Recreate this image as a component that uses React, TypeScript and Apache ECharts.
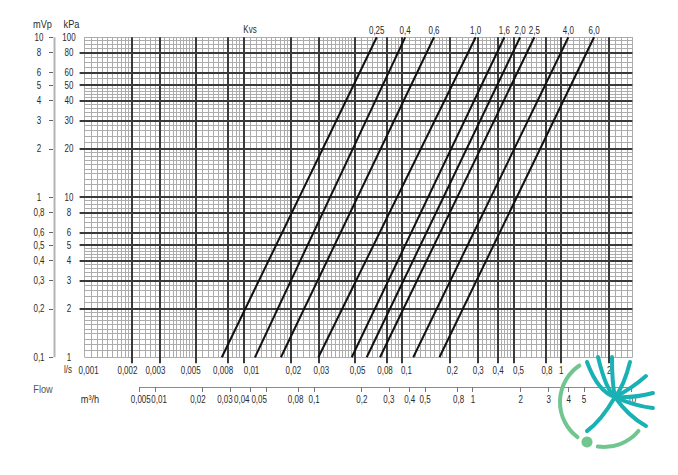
import React, { useEffect, useRef } from "react";
import * as echarts from "echarts";

// ---------------- data ----------------
const FLOW_MIN_LS = 0.001;
const FLOW_MAX_LS = 2.8;
const DP_MIN_KPA = 1;
const DP_MAX_KPA = 100;

const lsTickValues = [0.001, 0.002, 0.003, 0.005, 0.008, 0.01, 0.02, 0.03, 0.05, 0.08, 0.1, 0.2, 0.3, 0.4, 0.5, 0.8, 1, 2];
const lsTickLabels = ["0,001", "0,002", "0,003", "0,005", "0,008", "0,01", "0,02", "0,03", "0,05", "0,08", "0,1", "0,2", "0,3", "0,4", "0,5", "0,8", "1", "2"];
const lsMajorLines = [0.002, 0.003, 0.005, 0.008, 0.01, 0.02, 0.03, 0.05, 0.08, 0.1, 0.2, 0.3, 0.4, 0.5, 0.8, 1, 2];

// secondary flow scale in m³/h (first tick sits where the reference draws "0,005")
const m3hTickValues = [0.008, 0.01, 0.02, 0.03, 0.04, 0.05, 0.08, 0.1, 0.2, 0.3, 0.4, 0.5, 0.8, 1, 2, 3, 4, 5, 10];
const m3hTickLabels = ["0,005", "0,01", "0,02", "0,03", "0,04", "0,05", "0,08", "0,1", "0,2", "0,3", "0,4", "0,5", "0,8", "1", "2", "3", "4", "5", "10"];
const M3H_PER_LS = 3.6;

const kpaTickValues = [1, 2, 3, 4, 5, 6, 8, 10, 20, 30, 40, 50, 60, 80, 100];
const kpaTickLabels = ["1", "2", "3", "4", "5", "6", "8", "10", "20", "30", "40", "50", "60", "80", "100"];
const mvpTickLabels = ["0,1", "0,2", "0,3", "0,4", "0,5", "0,6", "0,8", "1", "2", "3", "4", "5", "6", "8", "10"];
const kpaMajorLines = [2, 3, 4, 5, 6, 8, 10, 20, 30, 40, 50, 60, 80];

const kvsNames = ["0,25", "0,4", "0,6", "1,0", "1,6", "2,0", "2,5", "4,0", "6,0"];
const kvsFlowAt1kPa = [0.0073, 0.0118, 0.0172, 0.0296, 0.048, 0.0596, 0.0723, 0.117, 0.171];
const kvsFlowAt100kPa = [0.0689, 0.104, 0.158, 0.289, 0.438, 0.55, 0.676, 1.107, 1.606];

// log-paper subdivision inside each decade
const gridMantissas = [1, 1.1, 1.2, 1.3, 1.4, 1.5, 1.6, 1.7, 1.8, 1.9, 2, 2.2, 2.4, 2.6, 2.8, 3, 3.2, 3.4, 3.6, 3.8, 4, 4.2, 4.4, 4.6, 4.8, 5, 5.5, 6, 6.5, 7, 7.5, 8, 8.5, 9, 9.5];
const xDecades = [0.001, 0.01, 0.1, 1];
const yDecades = [1, 10, 100];

// ---------------- styling ----------------
const FAMILY = "'Liberation Sans', Arial, sans-serif";
const NUM_FONT = `10px ${FAMILY}`;
const HEAD_FONT = `11.5px ${FAMILY}`;
const NARROW = 0.8;
const TEXT_COLOR = "#2a2a2a";
const MINOR_COLOR = "#acacac";
const MAJOR_COLOR = "#3a3a3a";
// horizontal label nudges (px) as set in the reference
const lsLabelNudge = [4, -5, -5, -5, -5, 8, 2, 2, 3, -2, 4, 2, 0, 0, 5, 1, 0, 0];
const m3hLabelNudge = [1, 4, -5, -6, -9, -7, -3, 0, 0, -1, 0, 0, 1, 0, 0, 0, 0, 0, 0];

function buildMinor(decades: number[], lo: number, hi: number) {
  const out: number[] = [];
  decades.forEach((d) => gridMantissas.forEach((m) => {
    const v = +(d * m).toPrecision(6);
    if (v >= lo * 0.9999 && v <= hi * 1.0001) out.push(v);
  }));
  return out;
}
const minorX = buildMinor(xDecades, FLOW_MIN_LS, FLOW_MAX_LS).concat([FLOW_MAX_LS]);
const minorY = buildMinor(yDecades, DP_MIN_KPA, DP_MAX_KPA);

const s1 = (v: number) => Math.floor(v) + 0.5;
const s2 = (v: number) => Math.round(v);

// narrow text element (condensed look of the reference)
const txt = (text: string, x: number, y: number, font = NUM_FONT, fill = TEXT_COLOR, extra: any = {}) => ({
  type: "text", x, y, scaleX: NARROW, ...extra,
  style: { text, x: 0, y: 0, align: "center", verticalAlign: "middle", font, fill },
});

export default function App() {
  const ref = useRef<HTMLDivElement>(null);
  useEffect(() => {
    document.body.style.margin = "0";
    const chart = echarts.init(ref.current!, null, { renderer: "svg" });
    const deg = (d: number) => (d * Math.PI) / 180;
    const TEAL = "#1ab1b4";
    const GREEN = "#71c58f";
    const C = [615, 397];
    const tealCurves = [
      [587, 362, 598, 392], [598, 357, 606, 390], [612, 357, 612, 384], [630, 362, 624, 386],
      [646, 376, 631, 389], [653, 393, 635, 398], [653, 408, 634, 406], [646, 426, 628, 416], [587, 431, 601, 421],
    ];

    const series: any[] = [
      {
        type: "custom", coordinateSystem: "cartesian2d", silent: true, z: 1,
        data: minorX.map((v) => [v, DP_MIN_KPA]),
        renderItem: (p: any, api: any) => {
          const cs = p.coordSys; const x = s1(api.coord([api.value(0), DP_MIN_KPA])[0]);
          return { type: "line", shape: { x1: x, y1: cs.y, x2: x, y2: cs.y + cs.height }, style: { stroke: MINOR_COLOR, lineWidth: 1 } };
        },
      },
      {
        type: "custom", coordinateSystem: "cartesian2d", silent: true, z: 1,
        data: minorY.map((v) => [FLOW_MIN_LS, v]),
        renderItem: (p: any, api: any) => {
          const cs = p.coordSys; const y = s1(api.coord([FLOW_MIN_LS, api.value(1)])[1]);
          return { type: "line", shape: { x1: cs.x, y1: y, x2: cs.x + cs.width, y2: y }, style: { stroke: MINOR_COLOR, lineWidth: 1 } };
        },
      },
      {
        type: "custom", coordinateSystem: "cartesian2d", silent: true, z: 2,
        data: lsMajorLines.map((v) => [v, DP_MIN_KPA]),
        renderItem: (p: any, api: any) => {
          const cs = p.coordSys; const x = s2(api.coord([api.value(0), DP_MIN_KPA])[0]);
          return { type: "line", shape: { x1: x, y1: cs.y, x2: x, y2: cs.y + cs.height + 6 }, style: { stroke: MAJOR_COLOR, lineWidth: 2 } };
        },
      },
      {
        type: "custom", coordinateSystem: "cartesian2d", silent: true, z: 2,
        data: kpaMajorLines.map((v) => [FLOW_MIN_LS, v]),
        renderItem: (p: any, api: any) => {
          const cs = p.coordSys; const y = s2(api.coord([FLOW_MIN_LS, api.value(1)])[1]);
          return { type: "line", shape: { x1: cs.x - 5, y1: y, x2: cs.x + cs.width, y2: y }, style: { stroke: MAJOR_COLOR, lineWidth: 2 } };
        },
      },
      // l/s tick labels
      {
        type: "custom", coordinateSystem: "cartesian2d", silent: true, z: 3,
        data: lsTickValues.map((v) => [v, DP_MIN_KPA]),
        renderItem: (p: any, api: any) => {
          const cs = p.coordSys; const x = api.coord([api.value(0), DP_MIN_KPA])[0];
          return txt(lsTickLabels[p.dataIndex], x + lsLabelNudge[p.dataIndex], cs.y + cs.height + 13);
        },
      },
      // kPa + mVp labels and the mVp scale bar ticks
      {
        type: "custom", coordinateSystem: "cartesian2d", silent: true, z: 3,
        data: kpaTickValues.map((v) => [FLOW_MIN_LS, v]),
        renderItem: (p: any, api: any) => {
          const y = api.coord([FLOW_MIN_LS, api.value(1)])[1];
          return {
            type: "group",
            children: [
              txt(kpaTickLabels[p.dataIndex], 69, y),
              txt(mvpTickLabels[p.dataIndex], 39, y),
              { type: "line", shape: { x1: 49, y1: s1(y), x2: 53, y2: s1(y) }, style: { stroke: "#666", lineWidth: 1 } },
            ],
          };
        },
      },
      // mVp scale bar
      {
        type: "custom", coordinateSystem: "cartesian2d", silent: true, z: 3,
        data: [[FLOW_MIN_LS, DP_MIN_KPA]],
        renderItem: (p: any, api: any) => {
          const y1 = api.coord([FLOW_MIN_LS, DP_MAX_KPA])[1];
          const y2 = api.coord([FLOW_MIN_LS, DP_MIN_KPA])[1];
          return { type: "line", shape: { x1: 54.5, y1, x2: 54.5, y2 }, style: { stroke: "#b4b4b4", lineWidth: 2 } };
        },
      },
      // m³/h axis line
      {
        type: "custom", coordinateSystem: "cartesian2d", silent: true, z: 3,
        data: [[m3hTickValues[0] / M3H_PER_LS, DP_MIN_KPA]],
        renderItem: (p: any, api: any) => {
          const xa = api.coord([m3hTickValues[0] / M3H_PER_LS, DP_MIN_KPA])[0];
          const xb = api.coord([m3hTickValues[m3hTickValues.length - 1] / M3H_PER_LS, DP_MIN_KPA])[0];
          return { type: "line", shape: { x1: xa, y1: 387.5, x2: xb + 2, y2: 387.5 }, style: { stroke: "#8c8c8c", lineWidth: 1 } };
        },
      },
      // m³/h ticks + labels
      {
        type: "custom", coordinateSystem: "cartesian2d", silent: true, z: 3,
        data: m3hTickValues.map((v) => [v / M3H_PER_LS, DP_MIN_KPA]),
        renderItem: (p: any, api: any) => {
          const x = api.coord([api.value(0), DP_MIN_KPA])[0];
          return {
            type: "group",
            children: [
              { type: "line", shape: { x1: s1(x), y1: 387, x2: s1(x), y2: 392 }, style: { stroke: "#777", lineWidth: 1 } },
              txt(m3hTickLabels[p.dataIndex], x + m3hLabelNudge[p.dataIndex], 400),
            ],
          };
        },
      },
      // Kvs names at the top end of each line
      {
        type: "custom", coordinateSystem: "cartesian2d", silent: true, z: 6,
        data: kvsFlowAt100kPa.map((v) => [v, DP_MAX_KPA]),
        renderItem: (p: any, api: any) => {
          const pt = api.coord([api.value(0), DP_MAX_KPA]);
          return txt(kvsNames[p.dataIndex], pt[0], pt[1] - 7);
        },
      },
      ...kvsNames.map((name, i) => ({
        type: "line", name, z: 5, silent: true, symbol: "none",
        data: [[kvsFlowAt1kPa[i], DP_MIN_KPA], [kvsFlowAt100kPa[i], DP_MAX_KPA]],
        lineStyle: { color: "#111", width: 2 },
      })),
    ];

    chart.setOption({
      animation: false,
      grid: { left: 84.6, right: 45.6, top: 37.3, bottom: 117.7, containLabel: false, outerBoundsMode: "none" },
      xAxis: {
        type: "log", logBase: 10, min: FLOW_MIN_LS, max: FLOW_MAX_LS,
        axisLine: { show: false }, axisTick: { show: false }, axisLabel: { show: false }, splitLine: { show: false },
      },
      yAxis: {
        type: "log", logBase: 10, min: DP_MIN_KPA, max: DP_MAX_KPA,
        axisLine: { show: false }, axisTick: { show: false }, axisLabel: { show: false }, splitLine: { show: false },
      },
      graphic: [
        txt("mVp", 42.5, 24, HEAD_FONT),
        txt("kPa", 71.5, 24, HEAD_FONT),
        txt("Kvs", 250, 30),
        txt("l/s", 68, 370),
        txt("Flow", 43, 389, HEAD_FONT, "#555"),
        txt("m³/h", 90, 399, HEAD_FONT),
        // watermark logo
        { type: "arc", z: 100, shape: { cx: 604, cy: 402, r: 44, startAngle: deg(127), endAngle: deg(236) }, style: { stroke: GREEN, lineWidth: 4, fill: null, lineCap: "round" } },
        { type: "arc", z: 100, shape: { cx: 604, cy: 402, r: 45, startAngle: deg(40), endAngle: deg(98) }, style: { stroke: GREEN, lineWidth: 4, fill: null, lineCap: "round" } },
        { type: "circle", z: 100, shape: { cx: 587, cy: 442, r: 5.5 }, style: { fill: GREEN } },
        ...tealCurves.map((c) => ({
          type: "bezierCurve", z: 101,
          shape: { x1: c[0], y1: c[1], x2: C[0], y2: C[1], cpx1: c[2], cpy1: c[3] },
          style: { stroke: TEAL, lineWidth: 4, fill: null, lineCap: "round" },
        })),
      ],
      series,
    });
    return () => chart.dispose();
  }, []);
  return <div ref={ref} style={{ width: 678, height: 475, position: "absolute", left: 0, top: 0, background: "#fff" }} />;
}
